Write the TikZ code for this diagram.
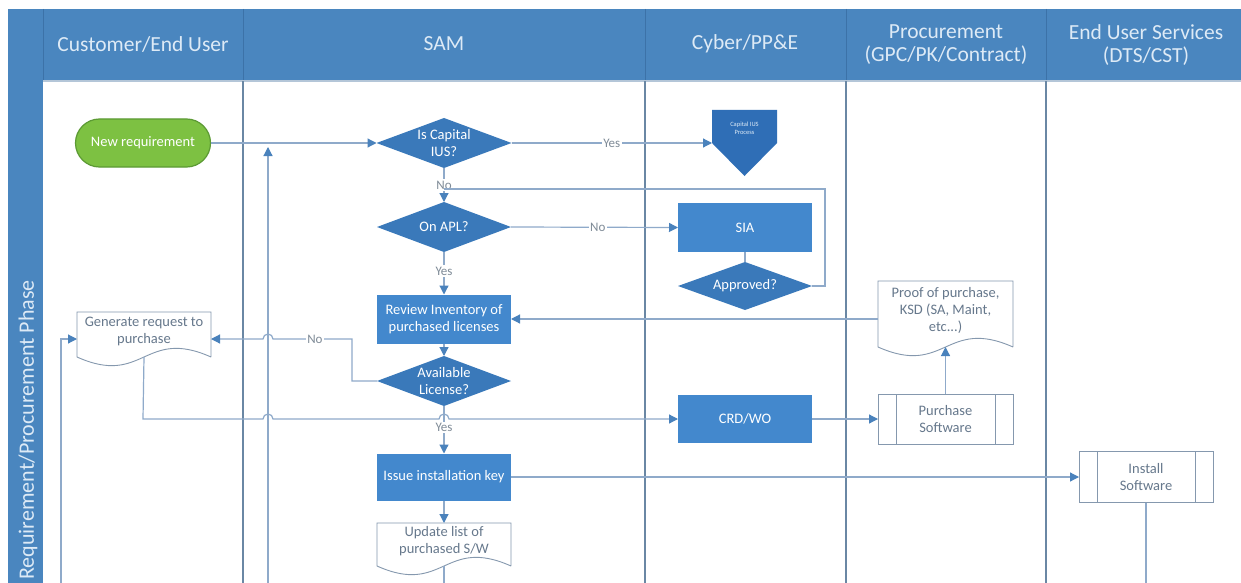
\documentclass[tikz,border=0pt]{standalone}
\usepackage{fontspec}
\setmainfont{Carlito}
\usetikzlibrary{shapes.geometric,arrows.meta,calc}

\definecolor{hdr}{HTML}{4A86BF}
\definecolor{hdrtxt}{HTML}{DDEAF6}
\definecolor{hdrline}{HTML}{3C72A8}
\definecolor{shadowc}{HTML}{B4C6D8}
\definecolor{divider}{HTML}{6A87A4}
\definecolor{boxblue}{HTML}{4388CD}
\definecolor{diablue}{HTML}{3A79BA}
\definecolor{offblue}{HTML}{2F6EB6}
\definecolor{connc}{HTML}{8FAACA}
\definecolor{tipc}{HTML}{4A82BC}
\definecolor{docline}{HTML}{8598AE}
\definecolor{doctxt}{HTML}{66788C}
\definecolor{grn}{HTML}{7DC142}
\definecolor{grnline}{HTML}{5C9A34}
\definecolor{lbl}{HTML}{7F8B97}

\newcommand{\docshape}[2]{%
  \draw[draw=docline, line width=0.9pt] (#1.south east) -- (#1.north east) -- (#1.north west) -- (#1.south west)
    .. controls ($(#1.south)+(0,#2)$) and ($(#1.south)+(0,-#2)$) .. (#1.south east);}
\newcommand{\predefbars}[1]{%
  \draw[draw=docline, line width=0.9pt] ($(#1.north west)+(18,0)$) -- ($(#1.south west)+(18,0)$);
  \draw[draw=docline, line width=0.9pt] ($(#1.north east)+(-18,0)$) -- ($(#1.south east)+(-18,0)$);}

\begin{document}
\begin{tikzpicture}[x=1pt,y=-1pt,
  every node/.style={inner sep=0pt, outer sep=0pt},
  boxtxt/.style={font=\fontsize{14.5}{17}\selectfont, align=center},
  procbox/.style={rectangle, fill=boxblue, text=white, boxtxt, minimum width=134pt, minimum height=49pt},
  decision/.style={diamond, fill=diablue, minimum width=134pt, minimum height=50pt},
  dlabel/.style={text=white, boxtxt},
  docbox/.style={rectangle, text=doctxt, boxtxt, minimum width=134pt},
  predef/.style={rectangle, draw=docline, line width=0.9pt, fill=white, text=doctxt, boxtxt, minimum width=135pt, minimum height=50pt},
  conn/.style={draw=connc, line width=1.2pt},
  arr/.style={conn, -{Triangle[length=9pt,width=9pt,color=tipc]}},
  elabel/.style={fill=white, text=lbl, font=\fontsize{13}{15}\selectfont, inner sep=1.5pt},
  hdrtext/.style={text=hdrtxt, font=\fontsize{21.5}{23}\selectfont, align=center},
  lane/.style={draw=divider, line width=2.4pt},
]
\useasboundingbox (0,0) rectangle (1241,583);
\fill[white] (0,0) rectangle (1241,583);

% swimlane frame
\fill[hdr] (8,9) rectangle (1241,80);
\fill[hdr] (8,9) rectangle (43,583);
\foreach \x in {43,243,645,846,1046} \draw[hdrline, line width=1pt] (\x,9) -- (\x,80);
\draw[shadowc, line width=1.5pt] (43,81) -- (1241,81);
\foreach \x in {243,645,846,1046} \draw[lane] (\x,81) -- (\x,583);

\node[hdrtext] (h1) at (143,44) {Customer/End User};
\node[hdrtext] (h2) at (444,44) {SAM};
\node[hdrtext] (h3) at (745,44) {Cyber/PP\&E};
\node[hdrtext] (h4) at (946,45) {Procurement\\(GPC/PK/Contract)};
\node[hdrtext] (h5) at (1146,45) {End User Services\\(DTS/CST)};
\node[hdrtext, font=\fontsize{22}{24}\selectfont, rotate=90] (phase) at (28,430) {Requirement/Procurement Phase};

% nodes
\node[rectangle, rounded corners=24pt, fill=grn, draw=grnline, line width=1.2pt, text=white, boxtxt,
      minimum width=135pt, minimum height=48pt] (newreq) at (143,143) {New requirement};

\node[decision, minimum width=135pt] (iscap) at (444,143) {};
\node[dlabel] (iscapt) at (444,143) {Is Capital\\IUS?};

\node[rectangle, minimum width=65pt, minimum height=66pt] (capius) at (744.5,143) {};
\fill[offblue] (capius.north west) -- (capius.north east) -- ($(capius.north east)+(0,33)$)
   -- (capius.south) -- ($(capius.north west)+(0,33)$) -- cycle;
\node[text=hdrtxt, font=\fontsize{6.5}{8}\selectfont, align=center] (capiust) at (744.5,128) {Capital IUS\\Process};

\node[decision] (onapl) at (444,227) {};
\node[dlabel] (onaplt) at (444,227) {On APL?};

\node[procbox] (sia) at (745,227.5) {SIA};
\node[decision, minimum height=48pt] (approved) at (745,286) {};
\node[dlabel] (approvedt) at (745,286) {Approved?};

\node[procbox] (review) at (444,319) {Review Inventory of\\purchased licenses};
\node[decision] (avail) at (444,381) {};
\node[dlabel] (availt) at (444,381) {Available\\License?};

\node[docbox, minimum height=45pt] (genreq) at (144,334.5) {};
\docshape{genreq}{30}
\node[text=doctxt, boxtxt] (genreqt) at (144,331) {Generate request to\\purchase};

\node[procbox, minimum height=48pt] (crd) at (745,419) {CRD/WO};

\node[predef] (purch) at (945.5,419) {Purchase\\Software};
\predefbars{purch}

\node[docbox, minimum width=135pt, minimum height=66pt] (proof) at (945.5,314) {};
\docshape{proof}{30}
\node[text=doctxt, boxtxt] (prooft) at (945.5,310) {Proof of purchase,\\KSD (SA, Maint,\\etc...)};

\node[procbox, minimum height=47pt] (issue) at (444,477) {Issue installation key};

\node[predef, minimum width=134pt, minimum height=51pt] (install) at (1146,477) {Install\\Software};
\predefbars{install}

\node[docbox, minimum height=43pt] (update) at (444,544.5) {};
\docshape{update}{30}
\node[text=doctxt, boxtxt] (updatet) at (444,541) {Update list of\\purchased S/W};

% coordinates
\coordinate (noY) at (352,339);
\coordinate (loopR) at (825,189);
\coordinate (loopL) at (444,189);
\coordinate (up1b) at (268,583);
\coordinate (up1t) at (268,147);
\coordinate (cb) at (61,583);
\coordinate (crdY) at (143,419);
\coordinate (updB) at (444,583);
\coordinate (instB) at (1146,583);

% connectors
\draw[arr] (newreq.east) -- (iscap.west);
\draw[arr] (iscap.east) -- node[elabel] (lyes1) {Yes} (capius.west);
\draw[arr] (iscap.south) -- node[elabel, pos=0.5] (lno1) {No} (onapl.north);
\draw[conn] (approved.east) -| (loopR) -- (loopL);
\draw[arr] (onapl.east) -- node[elabel, pos=0.52] (lno2) {No} (sia.west);
\draw[conn] (sia.south) -- (approved.north);
\draw[arr] (onapl.south) -- node[elabel, pos=0.45] (lyes2) {Yes} (review.north);
\draw[arr] (proof.west |- review.east) -- (review.east);
\draw[arr] (review.south) -- (avail.north);
\draw[arr] (avail.west) -| (noY) -- node[elabel, pos=0.47] (lno3) {No} (273,339) arc (0:180:5pt) -- (genreq.east |- noY);
\draw[arr] (genreq.south) -- (crdY) -- (263,419) arc (180:0:5pt) -- (439,419) arc (180:0:5pt) -- (crd.west);
\draw[arr] (avail.south) -- node[elabel, pos=0.45] (lyes3) {Yes} (issue.north);
\draw[arr] (crd.east) -- (purch.west);
\draw[arr] (purch.north) -- (proof.south);
\draw[arr] (issue.east) -- (install.west);
\draw[arr] (issue.south) -- (update.north);
\draw[conn] (update.south) -- (updB);
\draw[conn] (install.south) -- (instB);
\draw[arr] (up1b) -- (up1t);
\draw[arr] (cb) |- (genreq.west |- noY);
\end{tikzpicture}
\end{document}
